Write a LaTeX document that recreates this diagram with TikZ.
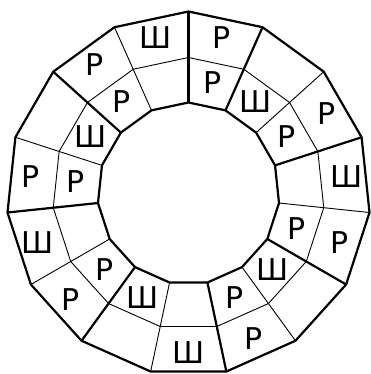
\documentclass[tikz,border=0pt]{standalone}
\usepackage{fontspec}
\setmainfont{DejaVu Sans}
\usetikzlibrary{calc}

\begin{document}
\begin{tikzpicture}[x=1pt,y=1pt,
  every node/.style={font=\fontsize{30}{30}\selectfont,inner sep=0pt},
  bd/.style={line width=2.2pt,line join=round},
  ln/.style={line width=0.9pt}]
\useasboundingbox (-188.5,-180.5) rectangle (181.5,193.5);
\foreach \k in {0,...,14} {
  \pgfmathsetmacro\a{90-24*\k}
  \coordinate (i\k) at (\a:91);
  \coordinate (m\k) at (\a:136);
  \coordinate (o\k) at (\a:182);
}
\draw[ln] (m0) \foreach \k in {1,...,14} {-- (m\k)} -- cycle;
\foreach \k in {2,4,...,14} {\draw[ln] (i\k) -- (o\k);}
\foreach \k in {0,1,3,5,7,9,11,13} {\draw[bd] (i\k) -- (o\k);}
\draw[bd] (o0) \foreach \k in {1,...,14} {-- (o\k)} -- cycle;
\draw[bd] (i0) \foreach \k in {1,...,14} {-- (i\k)} -- cycle;
\foreach \k/\t in {0/Р,2/Р,3/Ш,4/Р,6/Р,7/Ш,9/Р,10/Ш,11/Р,13/Р,14/Ш}
  {\node (u\k) at ({78-24*\k}:159) {\t};}
\foreach \k/\t in {0/Р,1/Ш,2/Р,4/Р,5/Ш,6/Р,8/Ш,9/Р,11/Р,12/Ш,13/Р}
  {\node (v\k) at ({78-24*\k}:113.5) {\t};}
\end{tikzpicture}
\end{document}
